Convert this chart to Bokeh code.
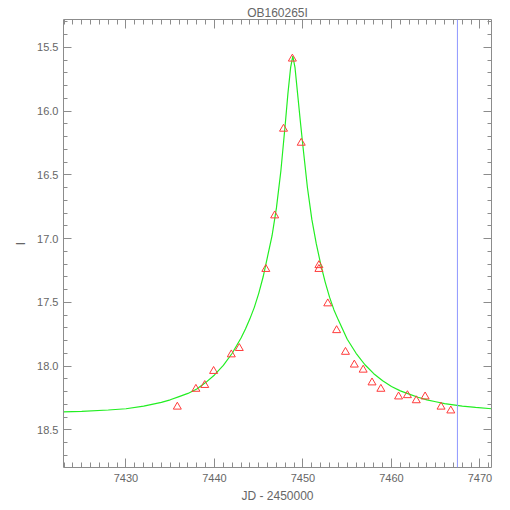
from bokeh.plotting import figure
from bokeh.models import (Range1d, SingleIntervalTicker, LinearAxis, Span, Title,
                          PrintfTickFormatter)
from bokeh.embed import file_html
from bokeh.resources import INLINE

# Observed photometry (JD - 2450000, I mag)
obs_jd = [7435.8, 7437.9, 7438.9, 7439.9, 7441.9, 7442.8, 7445.8, 7446.8, 7447.8,
          7448.8, 7449.8, 7451.8, 7451.8, 7452.8, 7453.8, 7454.8, 7455.8, 7456.8,
          7457.8, 7458.8, 7460.8, 7461.8, 7462.8, 7463.8, 7465.6, 7466.7]
obs_mag = [18.32, 18.18, 18.15, 18.04, 17.91, 17.86, 17.24, 16.82, 16.14,
           15.59, 16.25, 17.21, 17.24, 17.51, 17.72, 17.89, 17.99, 18.03,
           18.13, 18.18, 18.24, 18.23, 18.27, 18.24, 18.32, 18.35]

# Model curve
model_jd = [7422.9, 7425, 7428, 7430, 7432, 7434, 7435, 7436, 7437, 7438, 7439,
            7440, 7441, 7442, 7443, 7443.5, 7444, 7444.5, 7445, 7445.5, 7446,
            7446.5, 7447, 7447.5, 7448, 7448.3, 7448.6, 7448.85, 7449.1, 7449.4,
            7449.7, 7450, 7450.5, 7451, 7451.5, 7452, 7452.5, 7453, 7453.5, 7454,
            7455, 7456, 7457, 7458, 7459, 7460, 7461, 7462, 7463, 7464, 7465,
            7466, 7467, 7468, 7469.5, 7471.3]
model_mag = [18.36, 18.355, 18.345, 18.335, 18.315, 18.285, 18.265, 18.24, 18.215,
             18.18, 18.13, 18.07, 17.995, 17.90, 17.78, 17.71, 17.63, 17.54,
             17.43, 17.30, 17.14, 16.98, 16.76, 16.47, 16.10, 15.86, 15.66,
             15.57, 15.66, 15.87, 16.08, 16.28, 16.60, 16.85, 17.04, 17.20,
             17.34, 17.46, 17.56, 17.64, 17.79, 17.90, 17.99, 18.06, 18.115,
             18.16, 18.195, 18.22, 18.245, 18.265, 18.28, 18.295, 18.305,
             18.315, 18.325, 18.335]

marker_jd = 7467.45
title_text = "OB160265I"
x_label = "JD - 2450000"
y_label = "I"

x_lo, x_hi = 7422.94, 7471.3
y_top, y_bot = 15.282, 18.796

FONT = "Liberation Sans"
AX = "#8c8c8c"
TXT = "#666666"

p = figure(width=505, height=505, output_backend="svg", toolbar_location=None,
           x_range=Range1d(x_lo, x_hi), y_range=Range1d(y_bot, y_top),
           x_axis_location=None, y_axis_location=None)
p.min_border_left = 63
p.min_border_right = 14
p.min_border_top = 19
p.min_border_bottom = 35
p.grid.visible = False
p.outline_line_color = None
p.background_fill_color = "white"
p.border_fill_color = "white"

bottom_ax = LinearAxis(ticker=SingleIntervalTicker(interval=10, num_minor_ticks=10),
                       axis_label=x_label)
top_ax = LinearAxis(ticker=SingleIntervalTicker(interval=10, num_minor_ticks=10))
left_ax = LinearAxis(ticker=SingleIntervalTicker(interval=0.5, num_minor_ticks=5),
                     axis_label=y_label, formatter=PrintfTickFormatter(format="%.1f"))
right_ax = LinearAxis(ticker=SingleIntervalTicker(interval=0.5, num_minor_ticks=5))
p.add_layout(bottom_ax, "below")
p.add_layout(left_ax, "left")
p.add_layout(top_ax, "above")
p.add_layout(right_ax, "right")

p.add_layout(Title(text=title_text, align="center", text_font=FONT,
                   text_font_size="12px", text_font_style="normal",
                   text_color=TXT, standoff=0, offset=0), "above")

for ax in [bottom_ax, left_ax, top_ax, right_ax]:
    ax.axis_line_color = AX
    ax.major_tick_line_color = AX
    ax.minor_tick_line_color = AX
    ax.major_tick_out = 0
    ax.minor_tick_out = 0
    ax.major_label_text_font = FONT
    ax.major_label_text_font_size = "11px"
    ax.major_label_text_color = TXT
    ax.axis_label_text_font = FONT
    ax.axis_label_text_font_size = "12px"
    ax.axis_label_text_font_style = "normal"
    ax.axis_label_text_color = TXT

for ax in [bottom_ax, top_ax]:
    ax.major_tick_in = 9
    ax.minor_tick_in = 5
for ax in [left_ax, right_ax]:
    ax.major_tick_in = 8
    ax.minor_tick_in = 4
for ax in [top_ax, right_ax]:
    ax.major_label_text_color = None
    ax.major_label_text_font_size = "1px"
    ax.major_label_standoff = 0

bottom_ax.major_label_standoff = 6
bottom_ax.axis_label_standoff = 4
left_ax.major_label_standoff = 5
left_ax.axis_label_standoff = 6

p.line(model_jd, model_mag, line_color="#22ee22", line_width=1.2)
p.scatter(obs_jd, obs_mag, marker="triangle", size=8, fill_color=None,
          line_color="#ff3b3b", line_width=1)

p.add_layout(Span(location=marker_jd, dimension="height",
                  line_color="#8f98ff", line_width=1))

open("out.html", "w").write(file_html(p, INLINE))
